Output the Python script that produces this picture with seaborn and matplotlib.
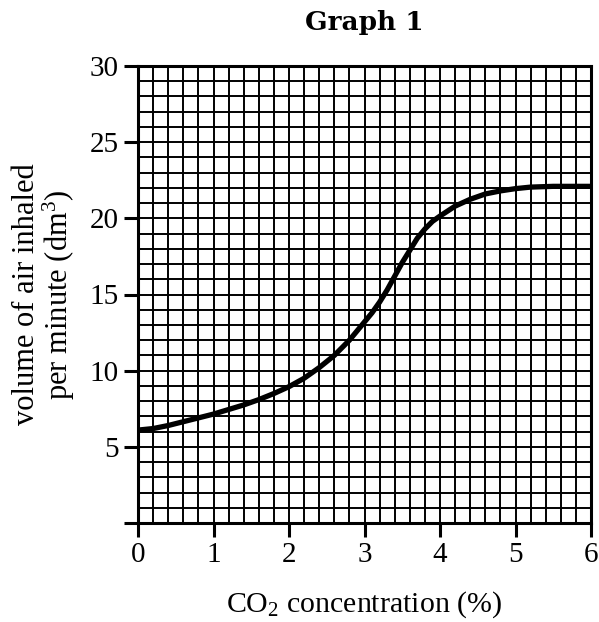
import matplotlib
matplotlib.use("Agg")
import matplotlib.pyplot as plt
import seaborn as sns
import pandas as pd
import numpy as np

# CO2 concentration (%) and volume of air inhaled per minute (dm3)
co2 = [0.0, 0.2, 0.4, 0.6, 0.8, 1.0, 1.2, 1.4, 1.6, 1.8, 2.0, 2.2, 2.4, 2.6, 2.8, 3.0,
       3.1, 3.2, 3.3, 3.4, 3.5, 3.6, 3.7, 3.8, 3.9, 4.0, 4.2, 4.4, 4.6, 4.8, 5.0, 5.2, 5.5, 6.0]
volume = [6.1, 6.2, 6.4, 6.65, 6.9, 7.15, 7.45, 7.75, 8.1, 8.5, 8.95, 9.5, 10.2, 11.0, 12.0, 13.2,
          13.8, 14.5, 15.3, 16.2, 17.1, 17.9, 18.7, 19.3, 19.8, 20.15, 20.8, 21.25, 21.6, 21.8, 21.95, 22.05, 22.1, 22.1]

x_ticks = [0, 1, 2, 3, 4, 5, 6]
y_ticks = [0, 5, 10, 15, 20, 25, 30]
y_tick_labels = ["", "5", "10", "15", "20", "25", "30"]

sns.set_theme(style="white")
plt.rcParams['font.family'] = ['Liberation Serif', 'DejaVu Serif']
plt.rcParams['mathtext.fontset'] = 'custom'
plt.rcParams['mathtext.rm'] = 'Liberation Serif'
plt.rcParams['mathtext.it'] = 'Liberation Serif:italic'
plt.rcParams['mathtext.bf'] = 'Liberation Serif:bold'

df = pd.DataFrame({"co2": co2, "volume": volume})

fig = plt.figure(figsize=(5.99, 6.22), dpi=100)
ax = fig.add_axes([138/599, 1-523/622, (591-138)/599, (523-66)/622])

ax.set_xlim(0, 6)
ax.set_ylim(0, 30)
ax.set_xticks(x_ticks)
ax.set_xticklabels([str(v) for v in x_ticks])
ax.set_yticks(y_ticks)
ax.set_yticklabels(y_tick_labels)
ax.set_xticks(np.arange(0, 6.01, 0.2), minor=True)
ax.set_yticks(np.arange(0, 30.01, 1), minor=True)
ax.grid(which='both', color='black', linewidth=1.4)
ax.set_axisbelow(True)

sns.lineplot(data=df, x="co2", y="volume", ax=ax, color='black', linewidth=3.8, zorder=5)

for s in ax.spines.values():
    s.set_color('black')
    s.set_linewidth(2.2)

ax.tick_params(which='major', direction='out', length=10, width=2.2, color='black',
               labelsize=21, pad=4, left=True, bottom=True)
ax.tick_params(which='minor', length=0)
for lab in ax.get_xticklabels() + ax.get_yticklabels():
    lab.set_color('black')

ax.set_xlabel("CO$_2$ concentration (%)", fontsize=21.5, color='black', labelpad=15)
ax.set_ylabel("volume of air inhaled\nper minute (dm$^3$)", fontsize=22, color='black',
              labelpad=9, linespacing=1.0)
ax.set_title("Graph 1", fontsize=19, fontweight='bold', family=['DejaVu Serif'],
             color='black', pad=26)

fig.savefig("out.png", dpi=100, facecolor='white')
